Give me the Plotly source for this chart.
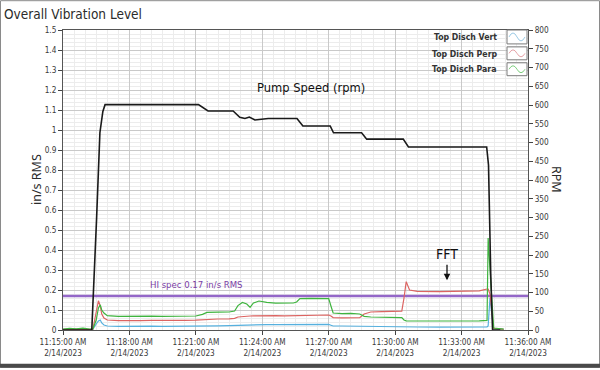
import plotly.graph_objects as go

DATE = "2023-02-14 "

# ---------------- data ----------------
rpm_time = ["11:15:00", "11:16:18", "11:16:31", "11:16:40", "11:16:48", "11:16:54",
            "11:21:07", "11:21:20", "11:21:33", "11:22:41", "11:22:59", "11:23:13",
            "11:23:25", "11:23:40", "11:24:12", "11:24:16", "11:25:34", "11:25:50",
            "11:27:04", "11:27:13", "11:28:29", "11:28:43", "11:30:22", "11:30:36",
            "11:34:08", "11:34:13", "11:34:19", "11:34:24", "11:34:45"]
rpm_value = [0, 0, 297, 526, 583, 601,
             601, 592, 584, 584, 567, 564,
             568, 560, 562, 564, 564, 544,
             544, 526, 526, 509, 509, 488,
             488, 440, 150, 0, 0]

vib_time = ["11:15:00", "11:15:18", "11:15:36", "11:15:54", "11:16:12", "11:16:21",
            "11:16:30", "11:16:36", "11:16:41", "11:16:45", "11:16:51", "11:17:00",
            "11:17:30", "11:18:00", "11:18:30", "11:19:00", "11:19:30", "11:20:00",
            "11:20:30", "11:21:00", "11:21:18", "11:21:30", "11:22:00", "11:22:30",
            "11:22:45", "11:22:54", "11:23:06", "11:23:18", "11:23:27", "11:23:36",
            "11:23:51", "11:24:12", "11:24:36", "11:25:00", "11:25:24", "11:25:33",
            "11:25:42", "11:26:12", "11:26:36", "11:27:00", "11:27:06", "11:27:12",
            "11:27:36", "11:28:00", "11:28:24", "11:28:36", "11:28:54", "11:29:24",
            "11:29:54", "11:30:18", "11:30:24", "11:30:30", "11:30:39", "11:31:00",
            "11:32:00", "11:33:00", "11:33:48", "11:34:09", "11:34:12", "11:34:17",
            "11:34:23", "11:34:27", "11:34:54"]
vert = [0.002, 0.003, 0.004, 0.003, 0.002, 0.004,
        0.030, 0.045, 0.050, 0.035, 0.025, 0.020,
        0.018, 0.019, 0.018, 0.019, 0.018, 0.018,
        0.019, 0.019, 0.020, 0.021, 0.021, 0.022,
        0.023, 0.025, 0.026, 0.026, 0.026, 0.027,
        0.027, 0.027, 0.027, 0.027, 0.027, 0.028,
        0.028, 0.028, 0.028, 0.028, 0.024, 0.020,
        0.020, 0.019, 0.019, 0.018, 0.018, 0.017,
        0.017, 0.017, 0.016, 0.015, 0.015, 0.015,
        0.014, 0.014, 0.015, 0.016, 0.020, 0.160,
        0.060, 0.005, 0.003]
perp = [0.003, 0.004, 0.005, 0.004, 0.003, 0.004,
        0.090, 0.146, 0.120, 0.080, 0.060, 0.050,
        0.047, 0.046, 0.047, 0.048, 0.047, 0.048,
        0.048, 0.049, 0.051, 0.055, 0.055, 0.056,
        0.058, 0.065, 0.068, 0.069, 0.070, 0.071,
        0.072, 0.072, 0.072, 0.071, 0.072, 0.073,
        0.074, 0.075, 0.075, 0.075, 0.070, 0.062,
        0.061, 0.060, 0.062, 0.080, 0.090, 0.092,
        0.092, 0.094, 0.160, 0.242, 0.200, 0.193,
        0.192, 0.193, 0.196, 0.205, 0.205, 0.180,
        0.060, 0.008, 0.003]
para = [0.004, 0.008, 0.006, 0.009, 0.005, 0.006,
        0.050, 0.110, 0.126, 0.100, 0.085, 0.072,
        0.068, 0.069, 0.068, 0.069, 0.068, 0.069,
        0.069, 0.070, 0.078, 0.088, 0.089, 0.090,
        0.095, 0.122, 0.138, 0.130, 0.113, 0.135,
        0.145, 0.138, 0.134, 0.133, 0.135, 0.140,
        0.157, 0.158, 0.156, 0.157, 0.120, 0.085,
        0.082, 0.083, 0.080, 0.068, 0.065, 0.064,
        0.063, 0.062, 0.050, 0.046, 0.045, 0.045,
        0.044, 0.045, 0.046, 0.048, 0.460, 0.300,
        0.100, 0.010, 0.004]

hi_spec = 0.17
series_names = ["Top Disch Vert", "Top Disch Perp", "Top Disch Para"]
x_ticks = ["11:15:00", "11:18:00", "11:21:00", "11:24:00", "11:27:00",
           "11:30:00", "11:33:00", "11:36:00"]
x_tick_text = ["11:15:00 AM<br>2/14/2023", "11:18:00 AM<br>2/14/2023",
               "11:21:00 AM<br>2/14/2023", "11:24:00 AM<br>2/14/2023",
               "11:27:00 AM<br>2/14/2023", "11:30:00 AM<br>2/14/2023",
               "11:33:00 AM<br>2/14/2023", "11:36:00 AM<br>2/14/2023"]

# ---------------- style ----------------
FONT = "Liberation Sans Narrow, DejaVu Sans Condensed, Noto Sans"
FONT2 = "Noto Sans"
C_VERT = "#56b0de"
C_PERP = "#dc6462"
C_PARA = "#3fb43f"
C_SPEC = "#9467c8"
L, R, T, B = 63, 72, 30, 38
W, H = 600, 370
PW, PH = W - L - R, H - T - B


def px(xp):
    return (xp - L) / PW


def py(yp):
    return (H - B - yp) / PH


def ts(lst):
    return [DATE + t for t in lst]


fig = go.Figure()
fig.add_trace(go.Scatter(x=ts([x_ticks[0], x_ticks[-1]]), y=[hi_spec, hi_spec],
                         mode="lines", line=dict(color=C_SPEC, width=2.6),
                         showlegend=False, hoverinfo="skip"))
fig.add_trace(go.Scatter(x=ts(vib_time), y=vert, mode="lines", name=series_names[0],
                         line=dict(color=C_VERT, width=1.2)))
fig.add_trace(go.Scatter(x=ts(vib_time), y=perp, mode="lines", name=series_names[1],
                         line=dict(color=C_PERP, width=1.2)))
fig.add_trace(go.Scatter(x=ts(vib_time), y=para, mode="lines", name=series_names[2],
                         line=dict(color=C_PARA, width=1.2)))
fig.add_trace(go.Scatter(x=ts(rpm_time), y=rpm_value, mode="lines", name="Pump Speed",
                         line=dict(color="#1a1a1a", width=1.6), yaxis="y2"))

xtickfont = dict(family=FONT, size=8.2, color="#3a3a3a")
ytickfont = dict(family=FONT, size=8.2, color="#3a3a3a")
fig.update_layout(
    width=W, height=H,
    margin=dict(l=L, r=R, t=T, b=B),
    paper_bgcolor="white", plot_bgcolor="white",
    showlegend=False,
    font=dict(family=FONT, color="#333"),
    xaxis=dict(type="date", range=ts([x_ticks[0], x_ticks[-1]]),
               tickvals=ts(x_ticks), ticktext=x_tick_text,
               showgrid=True, gridcolor="#c9c9c9", gridwidth=1,
               minor=dict(dtick=30000, showgrid=True, gridcolor="#ececec", gridwidth=1),
               ticks="outside", ticklen=4, tickcolor="#444",
               showline=True, linecolor="#555", linewidth=1, mirror=True,
               zeroline=False, tickfont=xtickfont, fixedrange=True),
    yaxis=dict(range=[0, 1.5], dtick=0.1, tick0=0,
               showgrid=True, gridcolor="#c9c9c9", gridwidth=1,
               minor=dict(dtick=0.02, showgrid=True, gridcolor="#ececec", gridwidth=1),
               ticks="outside", ticklen=4, tickcolor="#444",
               showline=True, linecolor="#555", linewidth=1,
               zeroline=False, tickfont=ytickfont),
    yaxis2=dict(range=[0, 800], dtick=50, overlaying="y", side="right",
                showgrid=False, ticks="outside", ticklen=4, tickcolor="#444",
                showline=True, linecolor="#555", linewidth=1,
                zeroline=False, tickfont=ytickfont),
)

ann = []
ann.append(dict(text="Overall Vibration Level", xref="paper", yref="paper",
                x=px(2), y=py(4), xanchor="left", yanchor="top", showarrow=False,
                font=dict(family=FONT, size=13.5, color="#2b2b2b")))
ann.append(dict(text="in/s RMS", xref="paper", yref="paper", x=px(36), y=py(181),
                textangle=-90, showarrow=False, xanchor="center", yanchor="middle",
                font=dict(family=FONT2, size=12.5, color="#2b2b2b")))
ann.append(dict(text="RPM", xref="paper", yref="paper", x=px(557), y=py(180),
                textangle=90, showarrow=False, xanchor="center", yanchor="middle",
                font=dict(family=FONT2, size=12.5, color="#2b2b2b")))
ann.append(dict(text="Pump Speed (rpm)", xref="paper", yref="paper", x=px(311), y=py(88),
                showarrow=False, xanchor="center", yanchor="middle",
                font=dict(family=FONT, size=12.8, color="#111")))
ann.append(dict(text="HI spec 0.17 in/s RMS", xref="paper", yref="paper", x=px(196), y=py(286),
                showarrow=False, xanchor="center", yanchor="middle",
                font=dict(family=FONT, size=9.5, color="#7a3ea6")))
ann.append(dict(text="FFT", xref="paper", yref="paper", x=px(447), y=py(255),
                showarrow=False, xanchor="center", yanchor="middle",
                font=dict(family=FONT, size=14, color="#111")))
ann.append(dict(text="", xref="paper", yref="paper", x=px(447), y=py(282),
                ax=0, ay=-17, showarrow=True, arrowhead=2, arrowsize=1,
                arrowwidth=1.3, arrowcolor="#111"))

shapes = []
rows = [(37, 30, 44, "#9ccbe6"), (54, 47, 60, "#e6a3a8"), (69, 63, 76, "#7fcf7f")]
for name, (ty, y0, y1, col) in zip(series_names, rows):
    ann.append(dict(text="<b>" + name + "</b>", xref="paper", yref="paper",
                    x=px(499), y=py(ty), xanchor="right", yanchor="middle", showarrow=False,
                    font=dict(family=FONT, size=8.7, color="#333")))
    shapes.append(dict(type="rect", xref="paper", yref="paper",
                       x0=px(507), x1=px(527), y0=py(y1), y1=py(y0),
                       line=dict(color="#7a7a7a", width=1), fillcolor="white"))
    xa, xb = px(509), px(525)
    xm = (xa + xb) / 2
    yh, yl = py(y0 + 3), py(y1 - 3)
    ym = (yh + yl) / 2
    path = (f"M {xa},{ym} Q {(xa + xm) / 2},{yh + (yh - ym)} {xm},{ym} "
            f"Q {(xm + xb) / 2},{yl - (ym - yl)} {xb},{ym}")
    shapes.append(dict(type="path", xref="paper", yref="paper", path=path,
                       line=dict(color=col, width=1)))

# frame around the picture
shapes.append(dict(type="rect", xref="paper", yref="paper",
                   x0=px(0.5), x1=px(599.5), y0=py(369.5), y1=py(0.5),
                   line=dict(color="#8a8a8a", width=1)))
shapes.append(dict(type="rect", xref="paper", yref="paper",
                   x0=px(0), x1=px(600), y0=py(370), y1=py(366),
                   line=dict(width=0), fillcolor="#4a4a4a"))

fig.update_layout(annotations=ann, shapes=shapes)
fig.write_html("out.html", config={"displayModeBar": False},
               post_script="document.body.style.margin='0px';")
